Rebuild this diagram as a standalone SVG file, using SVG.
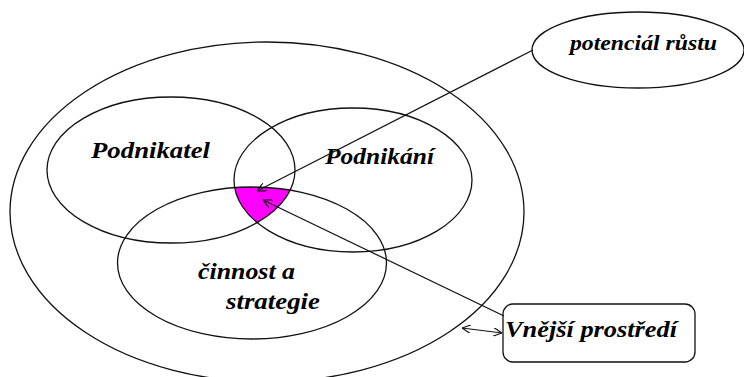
<svg xmlns="http://www.w3.org/2000/svg" width="744" height="377" viewBox="0 0 744 377">
  <style>
    .outline { fill: none; stroke: #111; stroke-width: 1.3; }
    .box { fill: #fff; stroke: #111; stroke-width: 1.3; }
    .conn { fill: none; stroke: #111; stroke-width: 1.2; }
    .lbl { font-family: "Liberation Serif", "DejaVu Serif", serif; font-style: italic; font-weight: bold; fill: #000; }
  </style>
  <defs>
    <clipPath id="clipPodnikatel">
      <ellipse cx="171" cy="170" rx="124" ry="73"/>
    </clipPath>
    <clipPath id="clipPodnikani">
      <ellipse cx="353" cy="180" rx="119" ry="72"/>
    </clipPath>
    <marker id="arrowOpen" viewBox="0 0 10 10" refX="10" refY="5" markerWidth="9" markerHeight="9" markerUnits="userSpaceOnUse" orient="auto-start-reverse">
      <path d="M0,0 L10,5 L0,10" fill="none" stroke="#111" stroke-width="1.3"/>
    </marker>
  </defs>

  <g id="node-outer">
    <ellipse class="outline" cx="267" cy="212" rx="257" ry="170"/>
  </g>

  <g id="node-intersection">
    <g clip-path="url(#clipPodnikatel)">
      <g clip-path="url(#clipPodnikani)">
        <ellipse cx="252" cy="263" rx="134.5" ry="76" fill="#ff00ff"/>
      </g>
    </g>
  </g>

  <g id="node-podnikatel">
    <ellipse class="outline" cx="171" cy="170" rx="124" ry="73"/>
    <text class="lbl" x="91" y="158" font-size="23" textLength="119" lengthAdjust="spacingAndGlyphs">Podnikatel</text>
  </g>

  <g id="node-podnikani">
    <ellipse class="outline" cx="353" cy="180" rx="119" ry="72"/>
    <text class="lbl" x="325" y="164" font-size="23" textLength="109" lengthAdjust="spacingAndGlyphs">Podnikání</text>
  </g>

  <g id="node-cinnost">
    <ellipse class="outline" cx="252" cy="263" rx="134.5" ry="76"/>
    <text class="lbl" x="198" y="279" font-size="23" textLength="97" lengthAdjust="spacingAndGlyphs">činnost a</text>
    <text class="lbl" x="226" y="309" font-size="23" textLength="94" lengthAdjust="spacingAndGlyphs">strategie</text>
  </g>

  <g id="node-potencial">
    <ellipse class="box" cx="638" cy="50" rx="106" ry="38"/>
    <text class="lbl" x="570" y="50" font-size="20" textLength="147" lengthAdjust="spacingAndGlyphs">potenciál růstu</text>
  </g>

  <g id="node-vnejsi">
    <rect class="box" x="503" y="304" width="192" height="58" rx="10" ry="10"/>
    <text class="lbl" x="505" y="337" font-size="24" textLength="172" lengthAdjust="spacingAndGlyphs">Vnější prostředí</text>
  </g>

  <g id="connectors">
    <path class="conn" d="M533,50 L257,191" marker-end="url(#arrowOpen)"/>
    <path class="conn" d="M504,316 L263,200" marker-end="url(#arrowOpen)"/>
    <path class="conn" d="M462,328 L502,333" marker-start="url(#arrowOpen)" marker-end="url(#arrowOpen)"/>
  </g>
</svg>
